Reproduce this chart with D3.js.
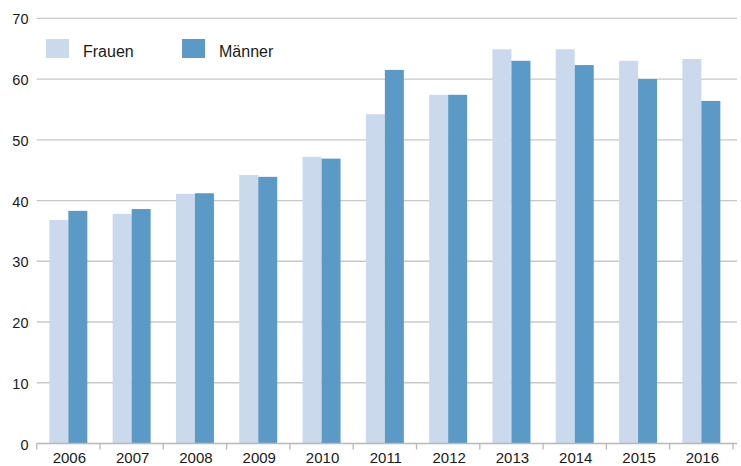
<!DOCTYPE html>
<html><head><meta charset="utf-8">
<script src="https://cdn.jsdelivr.net/npm/d3@7"></script>
<style>body{margin:0;background:#fff}svg{display:block}text{font-family:"Liberation Sans",Arial,sans-serif;fill:#1a1a1a}</style>
</head><body>
<svg id="c" width="741" height="466"></svg>
<script>
const years = ["2006","2007","2008","2009","2010","2011","2012","2013","2014","2015","2016"];
const frauen = [36.8,37.8,41.1,44.2,47.2,54.2,57.4,64.9,64.9,63.0,63.3];
const maenner = [38.3,38.6,41.2,43.9,46.9,61.5,57.4,63.0,62.3,60.0,56.4];
const seriesNames = ["Frauen","Männer"];
const colors = ["#cad9ec","#5b9ac6"];
const yTicks = [0,10,20,30,40,50,60,70];

(function(){
const svg = d3.select("#c");
const mL = 36.7, mR = 733, gridEnd = 737, mT = 18.3, mB = 443.5;
const x = d3.scaleBand().domain(years).range([mL,mR]).paddingInner(0.4).paddingOuter(0.2);
const x0 = d3.scaleBand().domain(years).range([mL,mR]);
const xs = d3.scaleBand().domain(seriesNames).range([0,x.bandwidth()]);
const y = d3.scaleLinear().domain([0,70]).range([mB,mT]);

svg.append("g").selectAll("line").data(yTicks.filter(d=>d>0)).join("line")
  .attr("x1",mL).attr("x2",gridEnd).attr("y1",d=>y(d)).attr("y2",d=>y(d))
  .attr("stroke","#c8c8c8").attr("stroke-width",1.3);
svg.append("g").selectAll("text").data(yTicks).join("text")
  .attr("x",28.5).attr("y",d=>y(d)+6).attr("text-anchor","end").attr("font-size",14.5).text(d=>d);

const data = years.map((yr,i)=>({yr,vals:[frauen[i],maenner[i]]}));
const g = svg.append("g").selectAll("g").data(data).join("g")
  .attr("transform",d=>`translate(${x(d.yr)},0)`);
g.selectAll("rect").data(d=>d.vals.map((v,j)=>({v,s:seriesNames[j],j}))).join("rect")
  .attr("x",d=>xs(d.s)).attr("width",xs.bandwidth())
  .attr("y",d=>y(d.v)).attr("height",d=>mB-y(d.v)).attr("fill",d=>colors[d.j]);

svg.append("line").attr("x1",mL).attr("x2",gridEnd).attr("y1",mB).attr("y2",mB)
  .attr("stroke","#b8b8b8").attr("stroke-width",1.3);
const tickPos = years.map(d=>x0(d)).concat([mR]);
svg.append("g").selectAll("line").data(tickPos).join("line")
  .attr("x1",d=>d).attr("x2",d=>d).attr("y1",mB).attr("y2",mB+6)
  .attr("stroke","#b8b8b8").attr("stroke-width",1.3);
svg.append("g").selectAll("text").data(years).join("text")
  .attr("x",d=>x0(d)+x0.bandwidth()/2+1).attr("y",462.5).attr("text-anchor","middle")
  .attr("font-size",15).text(d=>d);

const lx = [46,182];
const lg = svg.append("g").selectAll("g").data(seriesNames).join("g");
lg.append("rect").attr("x",(d,i)=>lx[i]).attr("y",39).attr("width",23).attr("height",19)
  .attr("fill",(d,i)=>colors[i]);
lg.append("text").attr("x",(d,i)=>lx[i]+37).attr("y",57).attr("font-size",16).text(d=>d);
})();
</script>
</body></html>
